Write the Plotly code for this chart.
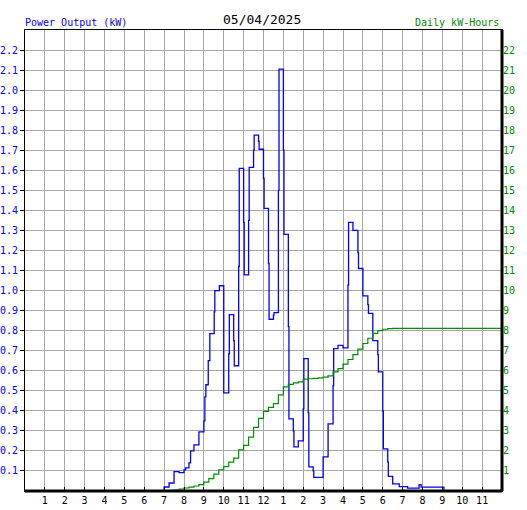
import plotly.graph_objects as go

# ---- data ----
blue_time = [7.00, 7.00, 7.25, 7.50, 7.75, 8.00, 8.08, 8.25, 8.33, 8.50, 8.75,
             9.00, 9.05, 9.10, 9.22, 9.30, 9.52, 9.55, 9.78,
             10.00, 10.25, 10.28, 10.50, 10.53, 10.75, 10.78,
             11.00, 11.03, 11.25, 11.28, 11.50, 11.53, 11.75, 11.78,
             12.00, 12.03, 12.25, 12.28, 12.50, 12.53, 12.75, 12.78,
             13.00, 13.03, 13.25, 13.28, 13.50, 13.53, 13.75,
             14.00, 14.03, 14.25, 14.28, 14.50, 14.53,
             15.00, 15.25, 15.50, 15.53, 15.75,
             16.00, 16.25, 16.28, 16.50, 16.75, 16.78,
             17.00, 17.25, 17.28, 17.50, 17.75, 17.78,
             18.00, 18.03, 18.25, 18.28, 18.50, 18.83,
             19.25, 19.83, 19.93, 21.08, 21.08]
blue_kw = [0.00, 0.02, 0.04, 0.097, 0.092, 0.105, 0.115, 0.14, 0.20, 0.23, 0.295,
           0.35, 0.47, 0.53, 0.65, 0.785, 0.894, 1.00, 1.024,
           0.49, 0.684, 0.88, 0.75, 0.625, 1.12, 1.61,
           1.34, 1.078, 1.35, 1.615, 1.70, 1.776, 1.745, 1.705,
           1.56, 1.41, 1.135, 0.857, 0.877, 0.89, 1.50, 2.105,
           1.70, 1.28, 0.82, 0.36, 0.30, 0.22, 0.25,
           0.41, 0.66, 0.39, 0.12, 0.10, 0.068,
           0.17, 0.335, 0.525, 0.71, 0.727,
           0.714, 1.0275, 1.34, 1.30, 1.19, 1.11,
           0.974, 0.93, 0.886, 0.75, 0.68, 0.594,
           0.40, 0.21, 0.145, 0.0725, 0.036, 0.022,
           0.014, 0.032, 0.019, 0.019, 0.0]

green_time = [7.00, 7.25, 7.50, 7.75, 8.00, 8.25, 8.50, 8.75,
              9.00, 9.25, 9.50, 9.75, 10.00, 10.25, 10.50, 10.75,
              11.00, 11.25, 11.50, 11.75, 12.00, 12.25, 12.50, 12.75,
              13.00, 13.25, 13.50, 13.75, 14.00, 14.25, 14.50, 14.75,
              15.00, 15.25, 15.50, 15.75, 16.00, 16.25, 16.50, 16.75,
              17.00, 17.25, 17.50, 17.75, 18.00, 18.25, 18.50, 23.95]
green_kwh = [0.02, 0.03, 0.05, 0.10, 0.15, 0.19, 0.25, 0.32,
             0.44, 0.62, 0.84, 1.06, 1.22, 1.44, 1.64, 2.05,
             2.28, 2.69, 3.17, 3.62, 3.97, 4.17, 4.36, 4.80,
             5.19, 5.32, 5.39, 5.44, 5.58, 5.60, 5.62, 5.64,
             5.68, 5.74, 5.94, 6.11, 6.33, 6.56, 6.80, 7.08,
             7.36, 7.62, 7.86, 8.00, 8.07, 8.10, 8.11, 8.12]

hour_ticks = [1, 2, 3, 4, 5, 6, 7, 8, 9, 10, 11, 12, 13, 14, 15, 16, 17, 18, 19, 20, 21, 22, 23]
hour_labels = ["1", "2", "3", "4", "5", "6", "7", "8", "9", "10", "11", "12",
               "1", "2", "3", "4", "5", "6", "7", "8", "9", "10", "11"]
kw_ticks = [0.1, 0.2, 0.3, 0.4, 0.5, 0.6, 0.7, 0.8, 0.9, 1.0, 1.1,
            1.2, 1.3, 1.4, 1.5, 1.6, 1.7, 1.8, 1.9, 2.0, 2.1, 2.2]
kw_labels = ["0.1", "0.2", "0.3", "0.4", "0.5", "0.6", "0.7", "0.8", "0.9", "1.0", "1.1",
             "1.2", "1.3", "1.4", "1.5", "1.6", "1.7", "1.8", "1.9", "2.0", "2.1", "2.2"]
kwh_ticks = [1, 2, 3, 4, 5, 6, 7, 8, 9, 10, 11, 12, 13, 14, 15, 16, 17, 18, 19, 20, 21, 22]

date_text = "05/04/2025"
left_title = "Power Output (kW)"
right_title = "Daily kW-Hours"

BLUE = "#0000ff"
GREEN = "#008c00"
FONT = "DejaVu Sans Mono"

fig = go.Figure()
fig.add_trace(go.Scatter(x=green_time, y=green_kwh, mode="lines", yaxis="y2",
                         line=dict(color=GREEN, width=1.2, shape="hv"),
                         hoverinfo="skip", showlegend=False))
fig.add_trace(go.Scatter(x=blue_time, y=blue_kw, mode="lines",
                         line=dict(color=BLUE, width=1.3, shape="hv"),
                         hoverinfo="skip", showlegend=False))

fig.update_layout(
    width=527, height=510,
    margin=dict(l=25, r=25, t=30, b=19, pad=0, autoexpand=False),
    paper_bgcolor="white", plot_bgcolor="white",
    font=dict(family=FONT, size=10, color="black"),
    xaxis=dict(range=[0, 24], tickvals=hour_ticks, ticktext=hour_labels,
               showgrid=True, gridcolor="#a6a6a6", gridwidth=1,
               ticks="inside", ticklen=4, tickcolor="black", tickwidth=1,
               showline=True, linecolor="black", linewidth=1, mirror=True,
               zeroline=False, tickfont=dict(color="black", size=10, family=FONT),
               automargin=False, fixedrange=True),
    yaxis=dict(range=[0, 2.3], tickvals=kw_ticks, ticktext=kw_labels,
               showgrid=True, gridcolor="#a6a6a6", gridwidth=1,
               ticks="outside", ticklen=4, tickcolor="black", tickwidth=1,
               showline=True, linecolor="black", linewidth=1, mirror=True,
               zeroline=False, tickfont=dict(color=BLUE, size=10, family=FONT),
               automargin=False, fixedrange=True),
    yaxis2=dict(range=[0, 23], tickvals=kwh_ticks, overlaying="y", side="right",
                showgrid=False, ticks="", zeroline=False, showline=False,
                tickfont=dict(color=GREEN, size=10, family=FONT),
                automargin=False, fixedrange=True),
    annotations=[
        dict(text=date_text, xref="paper", yref="paper", x=0.5, y=1,
             xanchor="center", yanchor="bottom", yshift=1, xshift=-2, showarrow=False,
             font=dict(size=13, color="black", family=FONT)),
        dict(text=left_title, xref="paper", yref="paper", x=0, y=1,
             xanchor="left", yanchor="bottom", yshift=0, xshift=-2, showarrow=False,
             font=dict(size=10, color=BLUE, family=FONT)),
        dict(text=right_title, xref="paper", yref="paper", x=1, y=1,
             xanchor="right", yanchor="bottom", yshift=0, xshift=-1, showarrow=False,
             font=dict(size=10, color=GREEN, family=FONT)),
    ],
    shapes=[
        dict(type="line", xref="paper", yref="paper", x0=1, x1=1, y0=0, y1=1,
             line=dict(color="black", width=3)),
        dict(type="line", xref="paper", yref="paper", x0=0, x1=1, y0=0, y1=0,
             line=dict(color="black", width=3)),
    ],
)

fig.write_html("out.html", config={"displayModeBar": False, "staticPlot": True},
               post_script="document.body.style.margin='0';document.body.style.overflow='hidden';")
